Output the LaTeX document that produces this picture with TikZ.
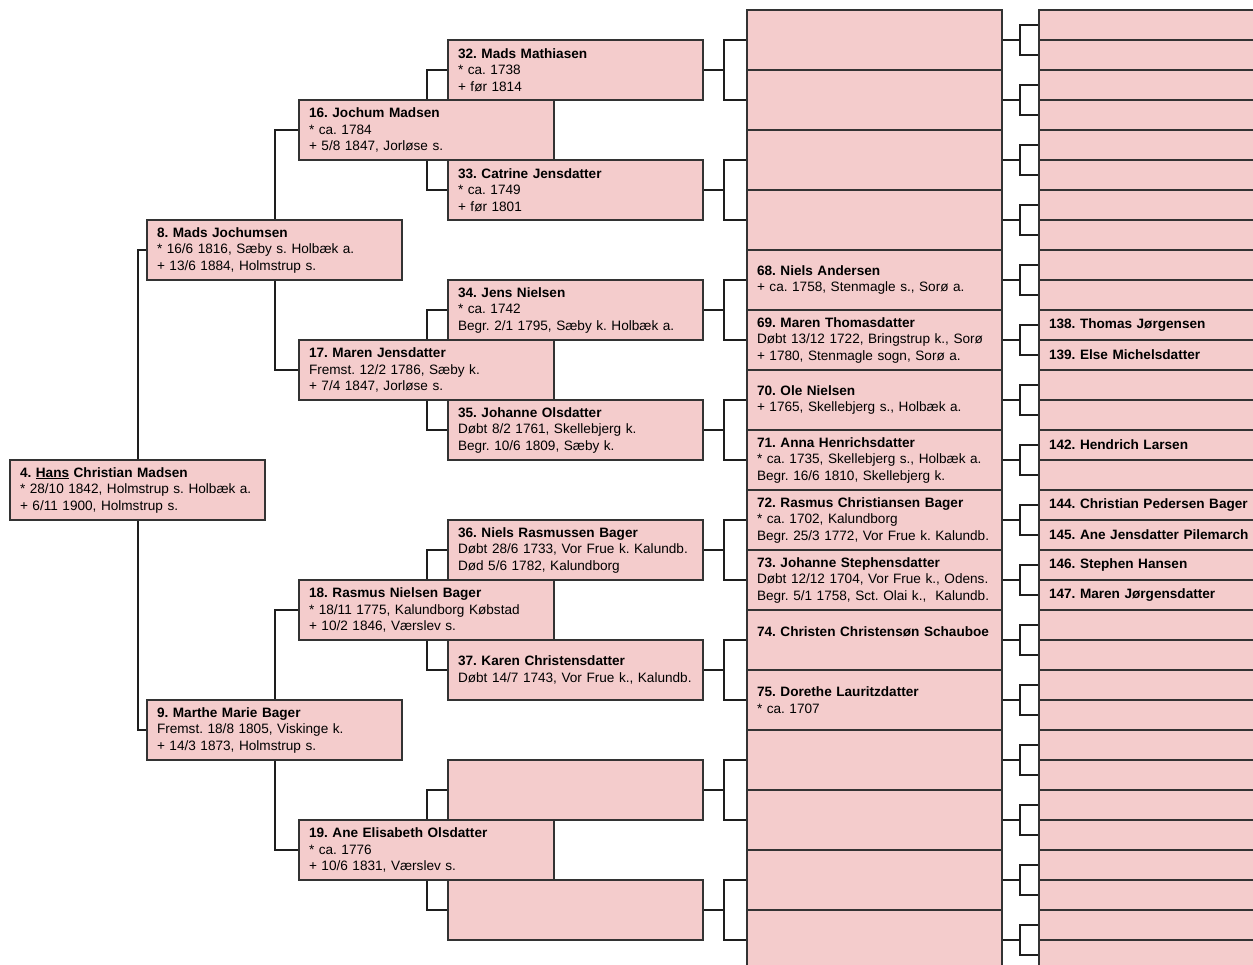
\documentclass[tikz,border=0pt]{standalone}
\usepackage{fontspec}
\setmainfont{Liberation Sans}
\usetikzlibrary{backgrounds}
\definecolor{boxfill}{HTML}{F4CCCC}
\definecolor{boxline}{HTML}{333333}
\definecolor{connline}{HTML}{1E1E1E}
\begin{document}
\frenchspacing
\begin{tikzpicture}[x=1pt,y=-1pt,
  pbox/.style={draw=boxline, fill=boxfill, line width=1.1pt, anchor=north west,
    minimum height=60pt, text width=235pt, inner xsep=10pt, inner ysep=0pt,
    outer sep=0pt, align=left, font=\fontsize{13.6}{16.5}\selectfont\frenchspacing},
  sbox/.style={pbox, minimum height=30pt},
  conn/.style={draw=connline, line width=2pt}]
\useasboundingbox (0,0) rectangle (1253,965);
\clip (0,0) rectangle (1253,965);

% generation 0
\node[pbox] (p4) at (10,460) {\textbf{4. \underline{Hans} Christian Madsen}\\{*} 28/10 1842, Holmstrup s. Holbæk a.\\+ 6/11 1900, Holmstrup s.};

% generation 1
\node[pbox] (p8) at (147,220) {\textbf{8. Mads Jochumsen}\\{*} 16/6 1816, Sæby s. Holbæk a.\\+ 13/6 1884, Holmstrup s.};
\node[pbox] (p9) at (147,700) {\textbf{9. Marthe Marie Bager}\\Fremst. 18/8 1805, Viskinge k.\\+ 14/3 1873, Holmstrup s.};

% generation 2
\node[pbox] (p16) at (299,100) {\textbf{16. Jochum Madsen}\\{*} ca. 1784\\+ 5/8 1847, Jorløse s.};
\node[pbox] (p17) at (299,340) {\textbf{17. Maren Jensdatter}\\Fremst. 12/2 1786, Sæby k.\\+ 7/4 1847, Jorløse s.};
\node[pbox] (p18) at (299,580) {\textbf{18. Rasmus Nielsen Bager}\\{*} 18/11 1775, Kalundborg Købstad\\+ 10/2 1846, Værslev s.};
\node[pbox] (p19) at (299,820) {\textbf{19. Ane Elisabeth Olsdatter}\\{*} ca. 1776\\+ 10/6 1831, Værslev s.};

% generation 3
\node[pbox] (p32) at (448,40) {\textbf{32. Mads Mathiasen}\\{*} ca. 1738\\+ før 1814};
\node[pbox] (p33) at (448,160) {\textbf{33. Catrine Jensdatter}\\{*} ca. 1749\\+ før 1801};
\node[pbox] (p34) at (448,280) {\textbf{34. Jens Nielsen}\\{*} ca. 1742\\Begr. 2/1 1795, Sæby k. Holbæk a.};
\node[pbox] (p35) at (448,400) {\textbf{35. Johanne Olsdatter}\\Døbt 8/2 1761, Skellebjerg k.\\Begr. 10/6 1809, Sæby k.};
\node[pbox] (p36) at (448,520) {\textbf{36. Niels Rasmussen Bager}\\Døbt 28/6 1733, Vor Frue k. Kalundb.\\Død 5/6 1782, Kalundborg};
\node[pbox] (p37) at (448,640) {\textbf{37. Karen Christensdatter}\\Døbt 14/7 1743, Vor Frue k., Kalundb.};
\node[pbox] (p38) at (448,760) {};
\node[pbox] (p39) at (448,880) {};

% generation 4
\foreach \i in {64,65,66,67,76,77,78,79}{
  \node[pbox] (p\i) at (747,{10+60*(\i-64)}) {};
}
\node[pbox] (p68) at (747,250) {\textbf{68. Niels Andersen}\\+ ca. 1758, Stenmagle s., Sorø a.};
\node[pbox] (p69) at (747,310) {\textbf{69. Maren Thomasdatter}\\Døbt 13/12 1722, Bringstrup k., Sorø\\+ 1780, Stenmagle sogn, Sorø a.};
\node[pbox] (p70) at (747,370) {\textbf{70. Ole Nielsen}\\+ 1765, Skellebjerg s., Holbæk a.};
\node[pbox] (p71) at (747,430) {\textbf{71. Anna Henrichsdatter}\\{*} ca. 1735, Skellebjerg s., Holbæk a.\\Begr. 16/6 1810, Skellebjerg k.};
\node[pbox] (p72) at (747,490) {\textbf{72. Rasmus Christiansen Bager}\\{*} ca. 1702, Kalundborg\\Begr. 25/3 1772, Vor Frue k. Kalundb.};
\node[pbox] (p73) at (747,550) {\textbf{73. Johanne Stephensdatter}\\Døbt 12/12 1704, Vor Frue k., Odens.\\Begr. 5/1 1758, Sct. Olai k.,\ \ Kalundb.};
\node[pbox] (p74) at (747,610) {\textbf{74. Christen Christensøn Schauboe}\\\mbox{}};
\node[pbox] (p75) at (747,670) {\textbf{75. Dorethe Lauritzdatter}\\{*} ca. 1707};

% generation 5
\foreach \i in {128,...,137,140,141,143,148,149,150,151,152,153,154,155,156,157,158,159}{
  \node[sbox] (p\i) at (1039,{10+30*(\i-128)}) {};
}
\node[sbox] (p138) at (1039,310) {\textbf{138. Thomas Jørgensen}};
\node[sbox] (p139) at (1039,340) {\textbf{139. Else Michelsdatter}};
\node[sbox] (p142) at (1039,430) {\textbf{142. Hendrich Larsen}};
\node[sbox] (p144) at (1039,490) {\textbf{144. Christian Pedersen Bager}};
\node[sbox] (p145) at (1039,520) {\textbf{145. Ane Jensdatter Pilemarch}};
\node[sbox] (p146) at (1039,550) {\textbf{146. Stephen Hansen}};
\node[sbox] (p147) at (1039,580) {\textbf{147. Maren Jørgensdatter}};

% connectors
\begin{scope}[on background layer]
  \draw[conn] (p4.north) |- (p8.west);
  \draw[conn] (p4.south) |- (p9.west);
  \draw[conn] (p8.north) |- (p16.west);
  \draw[conn] (p8.south) |- (p17.west);
  \draw[conn] (p9.north) |- (p18.west);
  \draw[conn] (p9.south) |- (p19.west);
  \foreach \i in {16,...,19}{
    \pgfmathtruncatemacro\ca{2*\i}
    \pgfmathtruncatemacro\cb{2*\i+1}
    \draw[conn] (p\i.north) |- (p\ca.west);
    \draw[conn] (p\i.south) |- (p\cb.west);
  }
  \foreach \i in {32,...,39}{
    \pgfmathtruncatemacro\ca{2*\i}
    \pgfmathtruncatemacro\cb{2*\i+1}
    \draw[conn] (p\i.east) -| ([xshift=-23pt]p\ca.west) -- (p\ca.west);
    \draw[conn] (p\i.east) -| ([xshift=-23pt]p\cb.west) -- (p\cb.west);
  }
  \foreach \i in {64,...,79}{
    \pgfmathtruncatemacro\ca{2*\i}
    \pgfmathtruncatemacro\cb{2*\i+1}
    \draw[conn] (p\i.east) -| ([xshift=-19pt]p\ca.west) -- (p\ca.west);
    \draw[conn] (p\i.east) -| ([xshift=-19pt]p\cb.west) -- (p\cb.west);
  }
\end{scope}
\end{tikzpicture}
\end{document}
